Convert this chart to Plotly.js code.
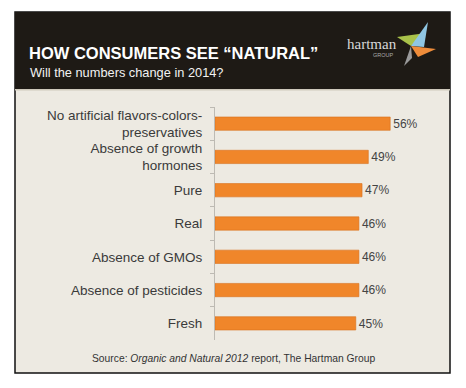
<!DOCTYPE html>
<html><head><meta charset="utf-8">
<script src="https://cdn.plot.ly/plotly-3.0.1.min.js"></script>
<style>html,body{margin:0;padding:0;background:#fff}#c{width:466px;height:388px}</style>
</head><body><div id="c"></div>
<script>
const categories = ["No artificial flavors-colors-<br>preservatives","Absence of growth<br>hormones","Pure","Real","Absence of GMOs","Absence of pesticides","Fresh"];
const values = [56,49,47,46,46,46,45];
const valueLabels = ["56%","49%","47%","46%","46%","46%","45%"];

const W=466,H=388, L=215, R=32, T=107, B=48;
const pw=W-L-R, ph=H-T-B;
const px=x=>(x-L)/pw, py=y=>(H-B-y)/ph;
function rect(x0,y0,x1,y1,fill,line,lw){return {type:'rect',xref:'paper',yref:'paper',x0:px(x0),x1:px(x1),y0:py(y1),y1:py(y0),fillcolor:fill,line:{color:line||fill,width:lw||0},layer:'below'};}
function poly(pts,fill){return {type:'path',xref:'paper',yref:'paper',path:'M'+pts.map(p=>px(p[0])+','+py(p[1])).join(' L')+' Z',fillcolor:fill,line:{width:0},layer:'above'};}
function ann(x,y,text,font,xa,ya){return {xref:'paper',yref:'paper',x:px(x),y:py(y),text:text,showarrow:false,font:font,xanchor:xa||'left',yanchor:ya||'middle'};}

const shapes=[
 rect(15,12,450,373,'#EDEAE2','#111',1.5),
 rect(15,12,450,89,'#1E1A15'),
 rect(15,89,450,90.5,'#CFC9BC'),
 // pinwheel
 poly([[411,46],[397,37],[426,33]],'#A9C24A'),
 poly([[411,46],[428,22],[424,47]],'#8FC6E3'),
 poly([[411,46],[436,49],[418,57]],'#EE8C3A'),
 poly([[411,46],[412,58],[404,66]],'#9A9A9A')
];
const annotations=[
 ann(27,53,'HOW CONSUMERS SEE “NATURAL”',{family:'Arial, Liberation Sans',size:16.5,color:'#fff',weight:'bold'}),
 ann(28,73,'Will the numbers change in 2014?',{family:'Arial, Liberation Sans',size:12.8,color:'#F2F2F2'}),
 ann(372,44,'hartman',{family:'Liberation Serif, DejaVu Serif',size:15,color:'#D8D8D8'},'center'),
 ann(383,55,'GROUP',{family:'Arial, Liberation Sans',size:5.5,color:'#AAAAAA'},'center'),
 ann(233,358,'Source: <i>Organic and Natural 2012</i> report, The Hartman Group',{family:'Arial, Liberation Sans',size:10.3,color:'#333'},'center')
];

Plotly.newPlot('c',[{
  type:'bar',orientation:'h',y:categories,x:values,text:valueLabels,texttemplate:'%{text}',
  textposition:'outside',cliponaxis:false,
  textfont:{family:'Arial, Liberation Sans',size:14.5,color:'#444'},
  marker:{color:'#F0862A',line:{color:'#D8711C',width:0.6}},width:0.4,hoverinfo:'none'
}],{
  width:W,height:H,margin:{l:L,r:R,t:T,b:B},
  paper_bgcolor:'#fff',plot_bgcolor:'rgba(0,0,0,0)',showlegend:false,
  xaxis:{range:[0,70],visible:false,fixedrange:true},
  yaxis:{autorange:'reversed',showline:true,linecolor:'#BDBAB3',linewidth:1,ticks:'outside',ticklen:4,tickcolor:'#BDBAB3',tickson:'boundaries',
    showgrid:false,tickfont:{family:'Arial, Liberation Sans',size:13.5,color:'#3A3A3A'},ticklabelstandoff:9,fixedrange:true},
  shapes:shapes,annotations:annotations
},{staticPlot:true});
</script></body></html>
